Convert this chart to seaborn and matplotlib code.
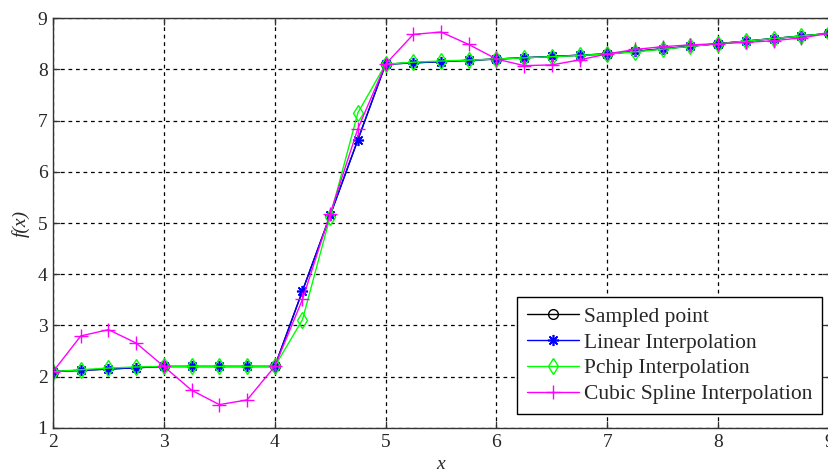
import matplotlib
matplotlib.use("Agg")
import matplotlib.pyplot as plt
import seaborn as sns
import pandas as pd

# Sampled data points
x_sampled = [2, 3, 4, 5, 6, 7, 8, 9]
y_sampled = [2.1, 2.2, 2.2, 8.1, 8.2, 8.3, 8.5, 8.7]

# Query grid, step 0.25
x_query = [2.0, 2.25, 2.5, 2.75, 3.0, 3.25, 3.5, 3.75, 4.0, 4.25, 4.5, 4.75,
           5.0, 5.25, 5.5, 5.75, 6.0, 6.25, 6.5, 6.75, 7.0, 7.25, 7.5, 7.75,
           8.0, 8.25, 8.5, 8.75, 9.0]

y_linear = [2.100, 2.125, 2.150, 2.175, 2.200, 2.200, 2.200, 2.200, 2.200,
            3.675, 5.150, 6.625, 8.100, 8.125, 8.150, 8.175, 8.200, 8.225,
            8.250, 8.275, 8.300, 8.350, 8.400, 8.450, 8.500, 8.550, 8.600,
            8.650, 8.700]

y_pchip = [2.100, 2.137, 2.169, 2.191, 2.200, 2.200, 2.200, 2.200, 2.200,
           3.113, 5.125, 7.151, 8.100, 8.139, 8.162, 8.180, 8.200, 8.223,
           8.246, 8.270, 8.300, 8.341, 8.392, 8.447, 8.500, 8.550, 8.600,
           8.650, 8.700]

y_spline = [2.100, 2.796, 2.919, 2.657, 2.200, 1.736, 1.456, 1.547, 2.200,
            3.508, 5.183, 6.841, 8.100, 8.681, 8.727, 8.484, 8.200, 8.071,
            8.086, 8.183, 8.300, 8.387, 8.442, 8.476, 8.500, 8.524, 8.558,
            8.613, 8.700]

legend_labels = ["Sampled point", "Linear Interpolation",
                 "Pchip Interpolation", "Cubic Spline Interpolation"]

sns.set_theme(style="white")
plt.rcParams["font.family"] = ["Liberation Serif", "DejaVu Serif"]

fig = plt.figure(figsize=(8.29, 4.75), dpi=100)
ax = fig.add_axes([0.064, 0.099, 0.936, 0.863])

df_s = pd.DataFrame({"x": x_sampled, "y": y_sampled})
df_q = pd.DataFrame({"x": x_query, "lin": y_linear, "pch": y_pchip, "spl": y_spline})

# asterisk marker: 8 spokes, like a '+' and 'x' combined
asterisk = (8, 2, 0)

sns.lineplot(data=df_s, x="x", y="y", ax=ax, color="black", marker="o",
             markersize=7, markerfacecolor="none", markeredgecolor="black",
             markeredgewidth=1.0, linewidth=1.0, sort=False, estimator=None,
             label=legend_labels[0])
sns.lineplot(data=df_q, x="x", y="lin", ax=ax, color="#0000ff", marker=asterisk,
             markersize=8, markeredgecolor="#0000ff", markeredgewidth=1.2,
             linewidth=1.0, sort=False, estimator=None, label=legend_labels[1])
sns.lineplot(data=df_q, x="x", y="pch", ax=ax, color="#00ff00", marker="d",
             markersize=8, markerfacecolor="none", markeredgecolor="#00ff00",
             markeredgewidth=1.0, linewidth=1.0, sort=False, estimator=None,
             label=legend_labels[2])
sns.lineplot(data=df_q, x="x", y="spl", ax=ax, color="#ff00ff", marker="+",
             markersize=10, markeredgecolor="#ff00ff", markeredgewidth=1.0,
             linewidth=1.0, sort=False, estimator=None, label=legend_labels[3])

ax.set_xlim(2, 9)
ax.set_ylim(1, 9)
ax.set_xticks(range(2, 10))
ax.set_yticks(range(1, 10))

ax.grid(True, color="black", linestyle=(0, (3, 3)), linewidth=0.9)
for s in ax.spines.values():
    s.set_color("#333333")
    s.set_linewidth(1.0)
ax.tick_params(direction="in", length=5, width=0.9, color="#333333",
               labelsize=14, pad=4, top=True, right=True,
               bottom=True, left=True)

ax.set_xlabel("x", fontsize=14, fontstyle="italic", labelpad=4)
ax.set_ylabel("f(x)", fontsize=14, fontstyle="italic", labelpad=6)

leg = ax.legend(loc="lower right", fontsize=15.5, frameon=True, fancybox=False,
                edgecolor="black", framealpha=1, borderpad=0.45,
                labelspacing=0.27, handlelength=2.4, handletextpad=0.25,
                borderaxespad=0,
                bbox_to_anchor=(822 / 829, 1 - 414 / 475),
                bbox_transform=fig.transFigure)
leg.get_frame().set_linewidth(1.0)

fig.savefig("out.png", dpi=100)
